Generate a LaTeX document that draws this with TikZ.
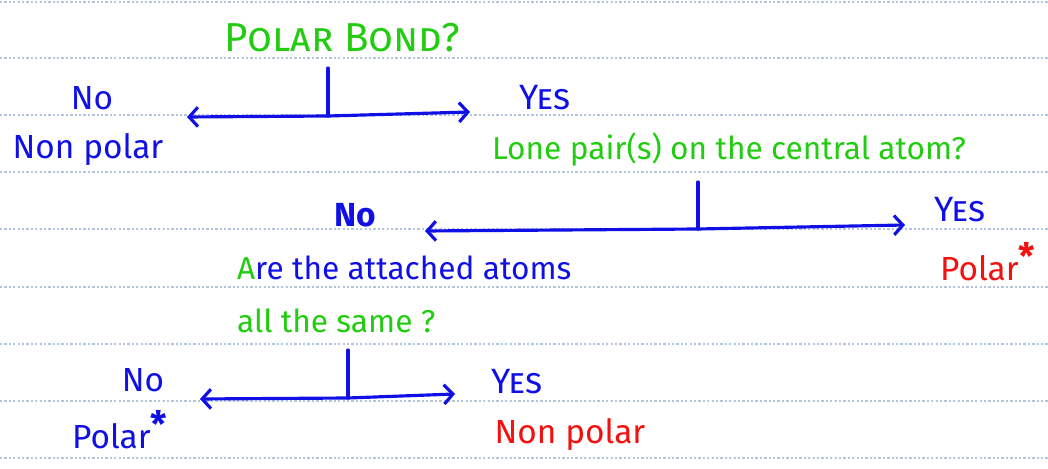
\documentclass[tikz,border=0pt]{standalone}
\usepackage{fontspec}
\setmainfont{Fira Sans}
\usepackage{tikz}
\usetikzlibrary{arrows.meta, positioning}
\definecolor{inkblue}{HTML}{1010E6}
\definecolor{inkgreen}{HTML}{22CC11}
\definecolor{inkred}{HTML}{F51010}
\definecolor{ruled}{HTML}{B4C6DE}

\begin{document}
\begin{tikzpicture}[x=0.02cm, y=-0.02cm,
    answer/.style={text=inkblue, inner sep=1pt, font=\fontsize{19}{22}\selectfont},
    question/.style={text=inkgreen, inner sep=1pt, font=\fontsize{18}{22}\selectfont},
    verdict/.style={text=inkred, inner sep=1pt, font=\fontsize{19}{22}\selectfont},
    branch/.style={draw=inkblue, line width=1.8pt, line cap=round},
    split/.style={branch, -{Straight Barb[length=5pt, width=11pt]}},
    ruledline/.style={draw=ruled, line width=1.5pt, dash pattern=on 1.3pt off 1.2pt}]
    \useasboundingbox (0,0) rectangle (1048,469);
    % notebook lines
    \foreach \y in {2,58,115,172,229,287,344,401,458}
        \draw[ruledline] (0,\y) -- (1048,\y);

    % first question
    \node[question, font=\fontsize{23}{26}\selectfont\scshape] (bond) at (342,38) {Polar Bond?};
    \node[answer] (no1) at (92,98) {No};
    \node[answer] (nonpolar1) at (88,150) {Non polar};
    \node[answer, font=\fontsize{20}{22}\selectfont\scshape] (yes1) at (545,98) {Yes};
    \coordinate (t1) at (328,68);
    \coordinate (j1) at (328,116);
    \coordinate (l1) at (187,117);
    \coordinate (r1) at (470,112);
    \draw[branch] (t1) -- (j1);
    \draw[split] (j1) -- (l1);
    \draw[split] (j1) -- (r1);

    % second question
    \node[question] (lone) at (729,150) {Lone pair(s) on the central atom?};
    \node[answer, font=\fontsize{19}{22}\selectfont\bfseries] (no2) at (355,215) {No};
    \node[answer, font=\fontsize{20}{22}\selectfont\scshape] (yes2) at (960,210) {Yes};
    \node[verdict] (polar2) at (988,262) {Polar\textsuperscript{\huge\bfseries *}};
    \coordinate (t2) at (698,182);
    \coordinate (j2) at (698,229);
    \coordinate (l2) at (425,231);
    \coordinate (r2) at (905,225);
    \draw[branch] (t2) -- (j2);
    \draw[split] (j2) -- (l2);
    \draw[split] (j2) -- (r2);

    % third question
    \node[text=inkblue, inner sep=1pt, anchor=west, align=left,
        font=\fontsize{18}{30}\selectfont] (same) at (235,294)
        {\textcolor{inkgreen}{A}re the attached atoms\\\textcolor{inkgreen}{all the same ?}};
    \node[answer] (no3) at (143,380) {No};
    \node[answer] (polar3) at (120,430) {Polar\textsuperscript{\huge\bfseries *}};
    \node[answer, font=\fontsize{20}{22}\selectfont\scshape] (yes3) at (517,382) {Yes};
    \node[verdict] (nonpolar3) at (570,435) {Non polar};
    \coordinate (t3) at (348,350);
    \coordinate (j3) at (348,398);
    \coordinate (l3) at (200,399);
    \coordinate (r3) at (455,394);
    \draw[branch] (t3) -- (j3);
    \draw[split] (j3) -- (l3);
    \draw[split] (j3) -- (r3);
\end{tikzpicture}
\end{document}
